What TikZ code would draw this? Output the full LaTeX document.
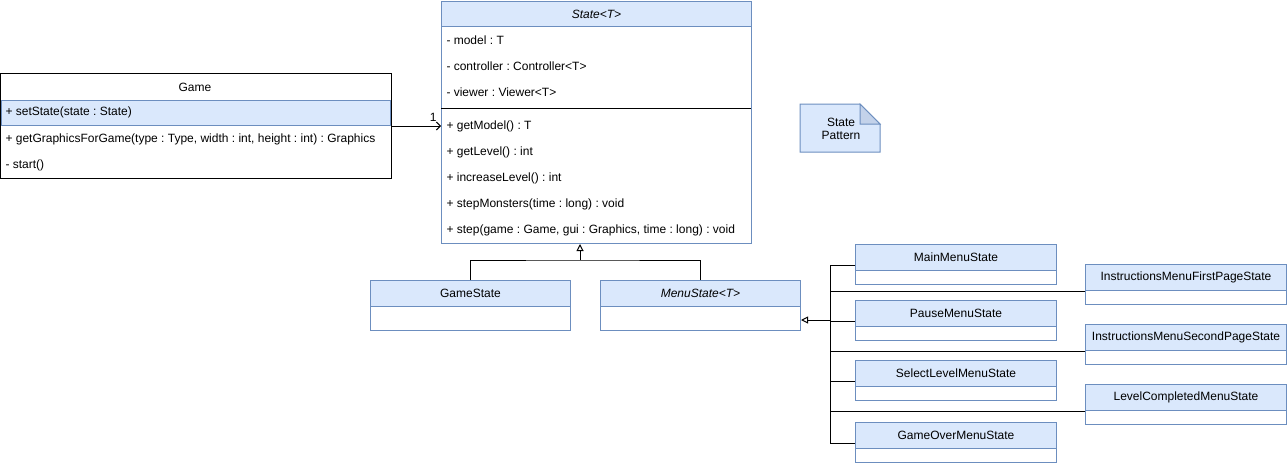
\documentclass[tikz,border=0pt]{standalone}
\usepackage{fontspec}
\setmainfont{Liberation Sans}
\usetikzlibrary{arrows.meta}
\definecolor{hdrfill}{HTML}{DAE8FC}
\definecolor{hdrline}{HTML}{6C8EBF}
\definecolor{foldfill}{HTML}{C3D2EA}
\frenchspacing

\begin{document}
\begin{tikzpicture}[x=1pt,y=-1pt,line width=1pt,
  font=\fontsize{12}{13}\selectfont,
  hdr/.style={draw=hdrline,fill=hdrfill,inner sep=0pt,anchor=north west,minimum height=26pt},
  body/.style={draw=hdrline,fill=white,inner sep=0pt,anchor=north west},
  row/.style={anchor=west,inner sep=0pt},
  gen/.style={-{Triangle[open,length=7pt,width=7pt]}},
  assoc/.style={-{Straight Barb[length=4pt,width=8pt]}}]

\useasboundingbox (0,0) rectangle (1287,463);

% ---------- State<T> ----------
\node[body,minimum width=310pt,minimum height=242pt] (stateb) at (441,1) {};
\node[hdr,minimum width=310pt,minimum height=25pt] (state) at (441,1) {\itshape State<T>};
\draw (441,108) -- (751,108);
\node[row] (sattr1) at (446,40) {- model : T};
\node[row] (sattr2) at (446,66) {- controller : Controller<T>};
\node[row] (sattr3) at (446,92) {- viewer : Viewer<T>};
\node[row] (sop1) at (446,126) {+ getModel() : T};
\node[row] (sop2) at (446,152) {+ getLevel() : int};
\node[row] (sop3) at (446,178) {+ increaseLevel() : int};
\node[row] (sop4) at (446,204) {+ stepMonsters(time : long) : void};
\node[row] (sop5) at (446,230) {+ step(game : Game, gui : Graphics, time : long) : void};

% ---------- Game ----------
\node[fill=white,inner sep=0pt,anchor=north west,
      minimum width=389.5pt,minimum height=104pt] (game) at (0.5,73) {};
\node (gametitle) at (195,87) {Game};
\node[draw=hdrline,fill=hdrfill,inner sep=0pt,anchor=north west,
      minimum width=389.5pt,minimum height=25pt] (setrow) at (0.5,100) {};
\node[row] (gop1) at (5,112.5) {+ setState(state : State)};
\node[row] (gop2) at (5,139) {+ getGraphicsForGame(type : Type, width : int, height : int) : Graphics};
\node[row] (gop3) at (5,165) {- start()};
\draw (game.north west) rectangle (game.south east);

% Game -> State association
\draw[assoc] (setrow.south -| game.east) -- (setrow.south -| stateb.west)
  node[pos=1,anchor=south east,inner sep=2pt,xshift=-2pt,yshift=2pt] (mult) {1};

% ---------- GameState / MenuState<T> ----------
\node[body,minimum width=200pt,minimum height=50pt] (gamestateb) at (370,280) {};
\node[hdr,minimum width=200pt] (gamestate) at (370,280) {GameState};
\node[body,minimum width=200pt,minimum height=50pt] (menustateb) at (600,280) {};
\node[hdr,minimum width=200pt] (menustate) at (600,280) {\itshape MenuState<T>};

\coordinate (split) at (580,260);
\draw (gamestate.north) |- (split) -| (menustate.north);
\draw[gen] (split) -- (split |- stateb.south);

% ---------- menu states ----------
\foreach \nm/\x/\y/\txt in {
    mainmenu/855/244/MainMenuState,
    pausemenu/855/300/PauseMenuState,
    selectmenu/855/360/SelectLevelMenuState,
    overmenu/855/422/GameOverMenuState,
    firstpage/1085/264/InstructionsMenuFirstPageState,
    secondpage/1085/324/InstructionsMenuSecondPageState,
    levelmenu/1085/384/LevelCompletedMenuState} {
  \node[body,minimum width=201pt,minimum height=40pt] (\nm b) at (\x,\y) {};
  \node[hdr,minimum width=201pt] (\nm) at (\x,\y) {\txt};
}

\coordinate (trunk) at (830,320);
\foreach \nm in {mainmenu,pausemenu,selectmenu,overmenu}
  \draw ([yshift=6pt]\nm.south west) -| (trunk);
\foreach \nm in {firstpage,secondpage,levelmenu}
  \draw (\nm.south west) -| (trunk);
\draw[gen] (trunk) -- (trunk -| menustateb.east);

% ---------- note ----------
\draw[draw=hdrline,fill=hdrfill] (800,104) -- (860,104) -- (880,124) -- (880,152) -- (800,152) -- cycle;
\draw[draw=hdrline,fill=foldfill] (860,104) -- (860,124) -- (880,124) -- cycle;
\node[align=center,inner sep=0pt] (note) at (841,129) {State\\Pattern};

\end{tikzpicture}
\end{document}
